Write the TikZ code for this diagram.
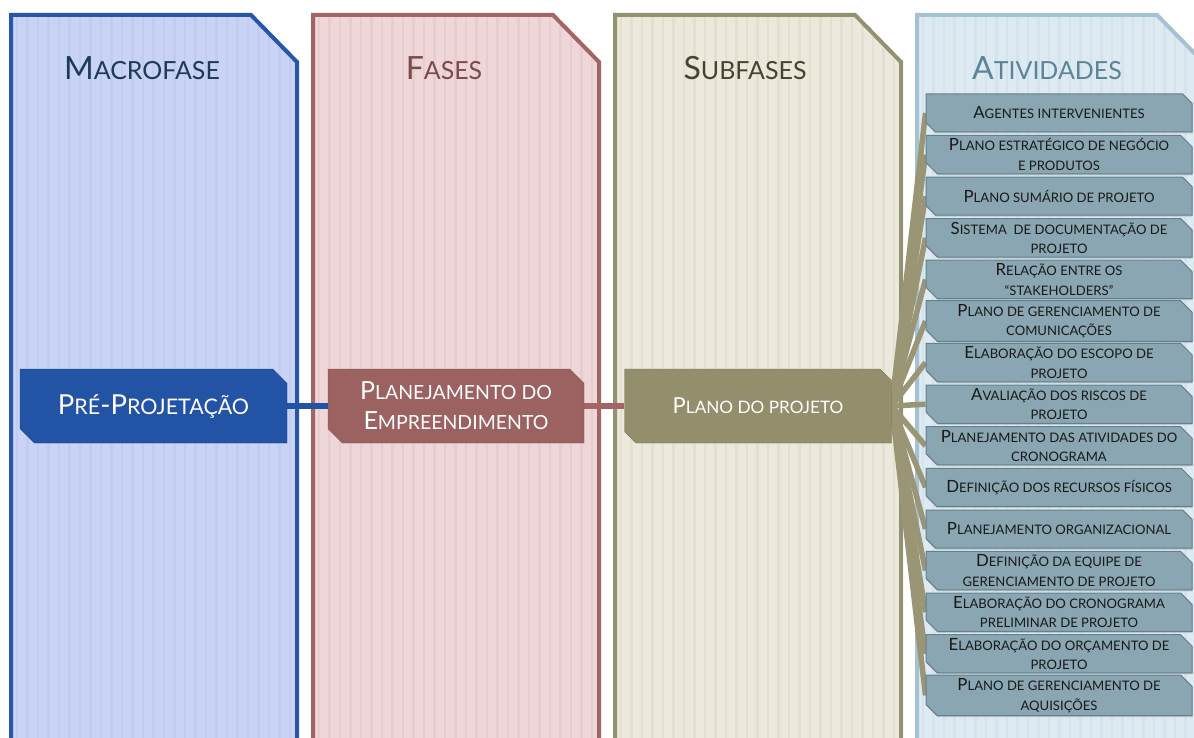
\documentclass[tikz,border=0pt]{standalone}
\usepackage{fontspec}
\setmainfont{Lato}
\usetikzlibrary{shapes.misc,shadows}
\makeatletter
% small-caps imitation: uppercase letters set at 78% of the current size
\newcommand\s[1]{{\fontsize{\strip@pt\dimexpr\f@size pt*78/100\relax}{\f@baselineskip}\selectfont#1}}
\makeatother
\definecolor{macroFill}{HTML}{C9D3F5}
\definecolor{macroStripe}{HTML}{C2CCF0}
\definecolor{macroLine}{HTML}{2757A6}
\definecolor{macroText}{HTML}{1D3A58}
\definecolor{faseFill}{HTML}{EFD6D8}
\definecolor{faseStripe}{HTML}{E8CDD0}
\definecolor{faseLine}{HTML}{A36464}
\definecolor{faseText}{HTML}{7B4B4B}
\definecolor{subFill}{HTML}{EBE8DC}
\definecolor{subStripe}{HTML}{E3E0D2}
\definecolor{subLine}{HTML}{949171}
\definecolor{subText}{HTML}{46442F}
\definecolor{atvFill}{HTML}{DDEAF1}
\definecolor{atvStripe}{HTML}{D5E4EC}
\definecolor{atvLine}{HTML}{A5C2D2}
\definecolor{atvText}{HTML}{5A8596}
\definecolor{preFill}{HTML}{2353A5}
\definecolor{planFill}{HTML}{9C6161}
\definecolor{projFill}{HTML}{938F6C}
\definecolor{fanCol}{HTML}{9A9675}
\definecolor{boxFill}{HTML}{8AA6B2}
\definecolor{boxLine}{HTML}{62808E}
\pgfdeclarelayer{cols}
\pgfdeclarelayer{links}
\pgfsetlayers{cols,links,main}
\tikzset{
  snip/.style={chamfered rectangle, chamfered rectangle corners={north east,south west},
    inner sep=0pt, align=center},
  mainbox/.style={snip, chamfered rectangle xsep=11pt, minimum width=#1, minimum height=74pt,
    text=white, font=\fontsize{25}{30}\selectfont},
  actbox/.style={snip, chamfered rectangle xsep=8pt, minimum width=266pt, minimum height=38pt,
    fill=boxFill, draw=boxLine, line width=1pt, text=black!90,
    font=\fontsize{16.8}{19.5}\selectfont,
    drop shadow={shadow xshift=0.5pt, shadow yshift=-1.5pt, opacity=0.35}},
  header/.style={font=\fontsize{32}{36}\selectfont, anchor=base},
  joint/.style={line width=6pt},
  fan/.style={line width=5.5pt, draw=fanCol},
}
\newcommand\colshape[4]{% x, fill, stripe, border
  \fill[#2] (#1,15) -- (#1+240,15) -- (#1+286,62) -- (#1+286,760) -- (#1,760) -- cycle;
  \begin{scope}
    \clip (#1,15) -- (#1+240,15) -- (#1+286,62) -- (#1+286,760) -- (#1,760) -- cycle;
    \foreach \k in {0,...,26} \draw[#3, line width=2.5pt] (#1+6+10.5*\k,15) -- (#1+6+10.5*\k,760);
  \end{scope}
  \draw[#4, line width=4pt, line join=miter] (#1,760) -- (#1,15) -- (#1+240,15) -- (#1+286,62) -- (#1+286,760);
}
\begin{document}
\begin{tikzpicture}[x=1pt,y=-1pt]
\useasboundingbox (0,0) rectangle (1194,738);
\clip (0,0) rectangle (1194,738);

% column headers
\node[header, text=macroText] (hMacro) at (142,80) {M\s{ACROFASE}};
\node[header, text=faseText] (hFase) at (444,80) {F\s{ASES}};
\node[header, text=subText] (hSub) at (745,80) {S\s{UBFASES}};
\node[header, text=atvText] (hAtv) at (1047,80) {A\s{TIVIDADES}};

% main chain
\node[mainbox=267pt, fill=preFill, draw=preFill!80!black, font=\fontsize{27.5}{33}\selectfont] (pre) at (153.5,406) {P\s{RÉ}-P\s{ROJETAÇÃO}};
\node[mainbox=256pt, fill=planFill, draw=planFill!80!black] (plan) at (456,406) {P\s{LANEJAMENTO DO}\\E\s{MPREENDIMENTO}};
\node[mainbox=267pt, fill=projFill, draw=projFill!80!black, font=\fontsize{22}{26}\selectfont] (proj) at (758,406) {P\s{LANO DO PROJETO}};

% activities
\foreach \t [count=\i] in {
  {A\s{GENTES INTERVENIENTES}},
  {P\s{LANO ESTRATÉGICO DE NEGÓCIO}\\\s{E PRODUTOS}},
  {P\s{LANO SUMÁRIO DE PROJETO}},
  {S\s{ISTEMA \ DE DOCUMENTAÇÃO DE}\\\s{PROJETO}},
  {R\s{ELAÇÃO ENTRE OS}\\\s{“STAKEHOLDERS”}},
  {P\s{LANO DE GERENCIAMENTO DE}\\\s{COMUNICAÇÕES}},
  {E\s{LABORAÇÃO DO ESCOPO DE}\\\s{PROJETO}},
  {A\s{VALIAÇÃO DOS RISCOS DE}\\\s{PROJETO}},
  {P\s{LANEJAMENTO DAS ATIVIDADES DO}\\\s{CRONOGRAMA}},
  {D\s{EFINIÇÃO DOS RECURSOS FÍSICOS}},
  {P\s{LANEJAMENTO ORGANIZACIONAL}},
  {D\s{EFINIÇÃO DA EQUIPE DE}\\\s{GERENCIAMENTO DE PROJETO}},
  {E\s{LABORAÇÃO DO CRONOGRAMA}\\\s{PRELIMINAR DE PROJETO}},
  {E\s{LABORAÇÃO DO ORÇAMENTO DE}\\\s{PROJETO}},
  {P\s{LANO DE GERENCIAMENTO DE}\\\s{AQUISIÇÕES}}}
  \node[actbox] (a\i) at (1059,{113+41.6*(\i-1)}) {\t};

\begin{pgfonlayer}{links}
  \draw[joint, draw=preFill] (pre.east) -- (plan.west);
  \draw[joint, draw=faseLine] (plan.east) -- (proj.west);
  \foreach \i in {1,...,15} \draw[fan] (proj.east) -- (a\i.west);
\end{pgfonlayer}

\begin{pgfonlayer}{cols}
  \fill[white] (0,0) rectangle (1194,738);
  \colshape{11}{macroFill}{macroStripe}{macroLine}
  \colshape{313}{faseFill}{faseStripe}{faseLine}
  \colshape{615}{subFill}{subStripe}{subLine}
  \colshape{917}{atvFill}{atvStripe}{atvLine}
\end{pgfonlayer}
\end{tikzpicture}
\end{document}
